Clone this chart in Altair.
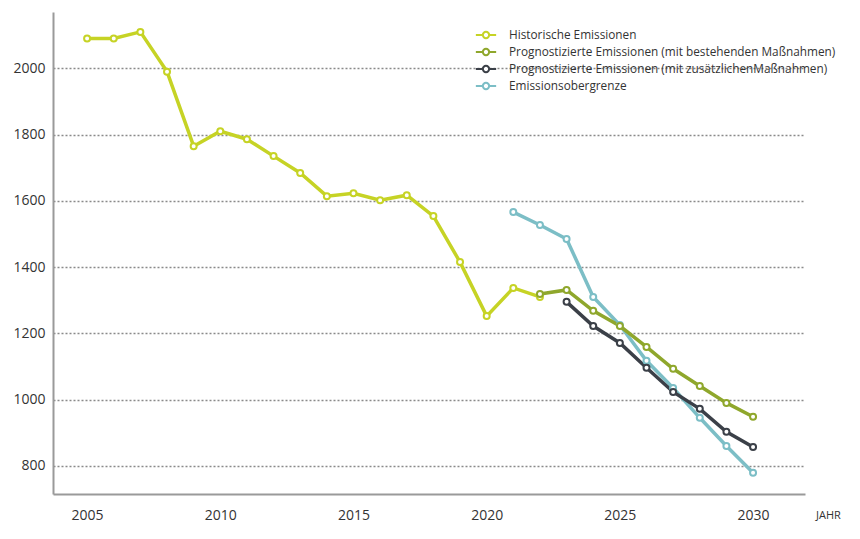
import altair as alt
import pandas as pd

series_names = [
    "Historische Emissionen",
    "Prognostizierte Emissionen (mit bestehenden Maßnahmen)",
    "Prognostizierte Emissionen (mit zusätzlichenMaßnahmen)",
    "Emissionsobergrenze",
]
series_colors = ["#c6d325", "#8fa72c", "#3b4048", "#7cbec6"]

hist_years = list(range(2005, 2023))
hist_values = [2090, 2090, 2110, 1990, 1765, 1810, 1786, 1735, 1684, 1614,
               1623, 1602, 1617, 1554, 1415, 1252, 1337, 1310]

wem_years = list(range(2022, 2031))
wem_values = [1319, 1331, 1268, 1222, 1159, 1093, 1041, 990, 948]

wam_years = list(range(2023, 2031))
wam_values = [1295, 1222, 1171, 1096, 1023, 972, 903, 857]

cap_years = list(range(2021, 2031))
cap_values = [1566, 1527, 1485, 1310, 1225, 1117, 1035, 945, 860, 779]

y_ticks = [800, 1000, 1200, 1400, 1600, 1800, 2000]
x_ticks = [2005, 2010, 2015, 2020, 2025, 2030]

rows = []
for name, yrs, vals in zip(
        [series_names[0], series_names[3], series_names[1], series_names[2]],
        [hist_years, cap_years, wem_years, wam_years],
        [hist_values, cap_values, wem_values, wam_values]):
    for y, v in zip(yrs, vals):
        rows.append({"Serie": name, "Jahr": y, "Wert": v})
df = pd.DataFrame(rows)

FONT = "Open Sans, sans-serif"

color_scale = alt.Scale(domain=series_names, range=series_colors)

color = alt.Color(
    "Serie:N",
    scale=color_scale,
    legend=alt.Legend(
        title=None,
        orient="none",
        legendX=425,
        legendY=15,
        symbolType="M-1.45,0L-0.45,0M0.45,0L1.45,0M-0.45,0A0.45,0.45 0 1,0 0.45,0A0.45,0.45 0 1,0 -0.45,0",
        symbolSize=196,
        symbolStrokeWidth=2,
        symbolFillColor="white",
        labelFont=FONT,
        labelFontSize=11.8,
        labelColor="#333333",
        labelLimit=0,
        rowPadding=1,
        labelOffset=15,
        padding=0,
    ),
)

x = alt.X(
    "Jahr:Q",
    scale=alt.Scale(domain=[2003.72, 2031.95], nice=False, zero=False),
    axis=alt.Axis(
        values=x_ticks, format="d", grid=False, ticks=False,
        domainColor="#9a9a9a", domainWidth=2,
        labelFont=FONT, labelFontSize=14, labelColor="#333333", labelPadding=14,
        title="JAHR", titleFont=FONT, titleFontSize=11, titleFontWeight="normal",
        titleColor="#333333", titleX=775, titleY=21, titleBaseline="middle",
        titleAlign="center",
    ),
)
y = alt.Y(
    "Wert:Q",
    scale=alt.Scale(domain=[715, 2170], nice=False, zero=False),
    axis=alt.Axis(
        values=y_ticks, format="d", grid=True, ticks=False,
        gridColor="#8a8a8a", gridDash=[2, 2], gridWidth=1.5,
        domainColor="#9a9a9a", domainWidth=2,
        labelFont=FONT, labelFontSize=14, labelColor="#333333", labelPadding=8,
        title=None,
    ),
)

lines = alt.Chart(df).mark_line(strokeWidth=3.5).encode(
    x=x, y=y, color=color, detail="Serie:N",
    order=alt.Order("Jahr:Q"),
)
points = alt.Chart(df).mark_point(
    filled=False, fill="white", fillOpacity=1, size=36, strokeWidth=2, opacity=1
).encode(x=x, y=y, color=alt.Color("Serie:N", scale=color_scale, legend=None))

chart = alt.layer(lines, points).properties(
    width=752, height=482,
    autosize=alt.AutoSizeParams(type="none"),
    padding={"left": 45, "top": 4, "right": 47, "bottom": 40},
    background="white",
).configure_view(stroke=None)

chart.save("out.html", embed_options={"renderer": "svg", "actions": False})
